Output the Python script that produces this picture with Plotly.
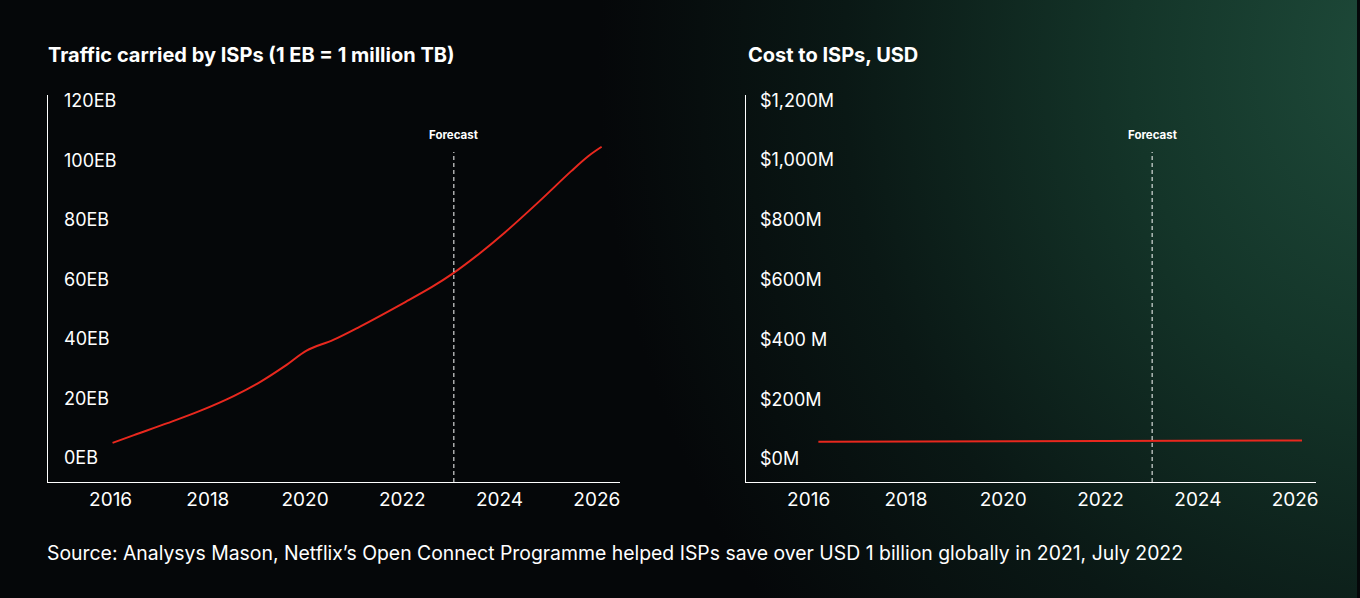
import base64
import plotly.graph_objects as go

# ---------------- data ----------------
traffic_years = [2016.04, 2016.48, 2017.17, 2017.85, 2018.53, 2019.08, 2019.62, 2020.03,
                 2020.58, 2021.12, 2022.07, 2022.61, 2023.02, 2023.57, 2024.11,
                 2024.80, 2025.48, 2025.83, 2026.10]
traffic_eb = [5.1, 7.7, 11.7, 15.9, 20.8, 25.6, 31.3, 36.1,
              39.7, 44.1, 52.5, 57.5, 61.8, 68.5, 75.8,
              86.0, 96.5, 101.5, 104.6]

cost_years = [2016.2, 2020.0, 2023.0, 2026.14]
cost_musd = [58, 60, 61, 62]

x_ticks = [2016, 2018, 2020, 2022, 2024, 2026]
x_labels = ["2016", "2018", "2020", "2022", "2024", "2026"]
y1_ticks = [0, 20, 40, 60, 80, 100, 120]
y1_labels = ["0EB", "20EB", "40EB", "60EB", "80EB", "100EB", "120EB"]
y2_ticks = [0, 200, 400, 600, 800, 1000, 1200]
y2_labels = ["$0M", "$200M", "$400 M", "$600M", "$800M", "$1,000M", "$1,200M"]
forecast_year = 2023.06

title_left = "Traffic carried by ISPs (1 EB = 1 million TB)"
title_right = "Cost to ISPs, USD"
source_text = ("Source: Analysys Mason, Netflix\u2019s Open Connect Programme helped ISPs save over "
               "USD 1 billion globally in 2021, July 2022")

# ---------------- styling ----------------
W, H = 1360, 598
FONT = "Inter"
RED = "#e8281e"

svg = (
    f"<svg xmlns='http://www.w3.org/2000/svg' width='{W}' height='{H}'>"
    "<defs><radialGradient id='g' cx='1420' cy='60' r='820' gradientUnits='userSpaceOnUse' "
    "gradientTransform='translate(1420 60) scale(1 1.1) translate(-1420 -60)'>"
    "<stop offset='0' stop-color='#1f4c3b'/>"
    "<stop offset='0.35' stop-color='#143529'/>"
    "<stop offset='0.7' stop-color='#0a1815'/>"
    "<stop offset='1' stop-color='#050709'/>"
    "</radialGradient></defs>"
    f"<rect width='{W}' height='{H}' fill='#050709'/>"
    f"<rect width='{W}' height='{H}' fill='url(#g)'/></svg>"
)
bg_uri = "data:image/svg+xml;base64," + base64.b64encode(svg.encode()).decode()

def px_x(p):
    return p / W

def px_y(p):
    return 1 - p / H

dom_y = [px_y(482), px_y(95)]

fig = go.Figure()
fig.add_trace(go.Scatter(x=traffic_years, y=traffic_eb, mode="lines",
                         line=dict(color=RED, width=2, shape="spline", smoothing=1.0),
                         xaxis="x", yaxis="y", hoverinfo="skip", showlegend=False))
fig.add_trace(go.Scatter(x=cost_years, y=cost_musd, mode="lines",
                         line=dict(color=RED, width=2),
                         xaxis="x2", yaxis="y2", hoverinfo="skip", showlegend=False))

axis_common = dict(showline=True, linecolor="white", linewidth=1, showgrid=False,
                   zeroline=False, ticks="")
xfont = dict(family=FONT, size=19, color="white")

fig.update_layout(
    width=W, height=H,
    margin=dict(l=0, r=0, t=0, b=0),
    paper_bgcolor="#050709",
    plot_bgcolor="rgba(0,0,0,0)",
    showlegend=False,
    images=[dict(source=bg_uri, xref="paper", yref="paper", x=0, y=1, sizex=1, sizey=1,
                 sizing="stretch", layer="below", xanchor="left", yanchor="top")],
    xaxis=dict(domain=[px_x(48), px_x(621)], range=[2014.71, 2026.47],
               tickvals=x_ticks, ticktext=x_labels, tickfont=xfont, anchor="y", **axis_common),
    yaxis=dict(domain=dom_y, range=[-8.07, 122.0], showticklabels=False, anchor="x", **axis_common),
    xaxis2=dict(domain=[px_x(748), px_x(1319)], range=[2014.72, 2026.43],
                tickvals=x_ticks, ticktext=x_labels, tickfont=xfont, anchor="y2", **axis_common),
    yaxis2=dict(domain=dom_y, range=[-76.9, 1216.7], showticklabels=False, anchor="x2", **axis_common),
)

# y tick labels placed inside the plot area, positioned by the y scales
for yr, ticks, labels, xpx in (("y", y1_ticks, y1_labels, 62), ("y2", y2_ticks, y2_labels, 760)):
    for v, t in zip(ticks, labels):
        fig.add_annotation(xref="paper", yref=yr, x=px_x(xpx), y=v, text=t, showarrow=False,
                           xanchor="left", yanchor="middle",
                           font=dict(family=FONT, size=18, color="white"))

dash_top = (482 - 152) / (482 - 95)
for xr, yr in (("x", "y domain"), ("x2", "y2 domain")):
    fig.add_shape(type="line", xref=xr, yref=yr, x0=forecast_year, x1=forecast_year,
                  y0=0, y1=dash_top, line=dict(color="white", width=1, dash="4px,3px"))
    fig.add_annotation(xref=xr, yref="paper", x=forecast_year, y=px_y(135),
                       text="<b>Forecast</b>", showarrow=False, xanchor="center", yanchor="middle",
                       font=dict(family=FONT, size=11.5, color="white"))

fig.add_annotation(xref="paper", yref="paper", x=px_x(46), y=px_y(55), text=f"<b>{title_left}</b>",
                   showarrow=False, xanchor="left", yanchor="middle",
                   font=dict(family=FONT, size=20, color="white"))
fig.add_annotation(xref="paper", yref="paper", x=px_x(748), y=px_y(55), text=f"<b>{title_right}</b>",
                   showarrow=False, xanchor="left", yanchor="middle",
                   font=dict(family=FONT, size=20, color="white"))
fig.add_annotation(xref="paper", yref="paper", x=px_x(45), y=px_y(553), text=source_text,
                   showarrow=False, xanchor="left", yanchor="middle",
                   font=dict(family=FONT, size=19.4, color="white"))

fig.write_html("out.html", config={"displayModeBar": False},
               post_script="document.body.style.margin='0';document.body.style.overflow='hidden';")
